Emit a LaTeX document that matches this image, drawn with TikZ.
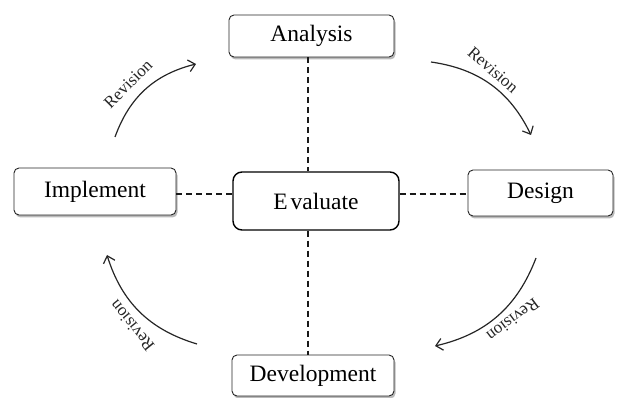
\documentclass[tikz,border=0pt]{standalone}
\usepackage{fontspec}
\setmainfont{Liberation Serif}
\usetikzlibrary{arrows.meta,shadows}
\begin{document}
\begin{tikzpicture}[x=1pt,y=-1pt,
  stagebox/.style={draw=black!85, line width=0.9pt, rounded corners=5pt, fill=white,
    inner sep=0pt, font=\fontsize{23.5}{26}\selectfont, text=black,
    drop shadow={shadow xshift=1.5pt, shadow yshift=-2.5pt, fill=black!45, opacity=0.6}},
  centerbox/.style={draw=black, line width=1.4pt, rounded corners=9pt, fill=white,
    inner sep=0pt, font=\fontsize{23.5}{26}\selectfont, text=black},
  link/.style={dashed, dash pattern=on 6pt off 4pt, line width=1.3pt, black!90},
  cycarrow/.style={line width=1.2pt, black!85, -{Straight Barb[length=6.5pt,width=12pt,line width=1.2pt]}, bend left=28},
  revlabel/.style={font=\fontsize{17}{19}\selectfont, text=black!85, inner sep=0pt}
]
\useasboundingbox (0,0) rectangle (622,398);

\node[stagebox, minimum width=165pt, minimum height=42pt] (ana) at (311.5,36) {Analysis};
\node[stagebox, minimum width=162pt, minimum height=47pt] (imp) at (95,191.5) {Implement};
\node[stagebox, minimum width=145pt, minimum height=46pt] (des) at (540.5,193) {Design};
\node[stagebox, minimum width=162pt, minimum height=41pt] (dev) at (313,375.5) {Development};
\node[centerbox, minimum width=166pt, minimum height=58pt] (eva) at (316,201) {E\kern3pt valuate};

\coordinate (vx) at (308,0);
\coordinate (hy) at (0,194);
\draw[link] (ana.south -| vx) -- (eva.north -| vx);
\draw[link] (eva.south -| vx) -- (dev.north -| vx);
\draw[link] (imp.east |- hy) -- (eva.west |- hy);
\draw[link] (eva.east |- hy) -- (des.west |- hy);

\coordinate (a1s) at (115,137);
\coordinate (a1e) at (196,64);
\coordinate (a2s) at (431,62);
\coordinate (a2e) at (531,135);
\coordinate (a3s) at (536,258);
\coordinate (a3e) at (435,346);
\coordinate (a4s) at (197,344);
\coordinate (a4e) at (107,255);
\draw[cycarrow] (a1s) to (a1e);
\draw[cycarrow] (a2s) to (a2e);
\draw[cycarrow] (a3s) to (a3e);
\draw[cycarrow] (a4s) to (a4e);

\node[revlabel, rotate=45] (r1) at (128,84) {Revision};
\node[revlabel, rotate=-41] (r2) at (493,70) {Revision};
\node[revlabel, rotate=217] (r3) at (513,320) {Revision};
\node[revlabel, rotate=129] (r4) at (132,326) {Revision};
\end{tikzpicture}
\end{document}
